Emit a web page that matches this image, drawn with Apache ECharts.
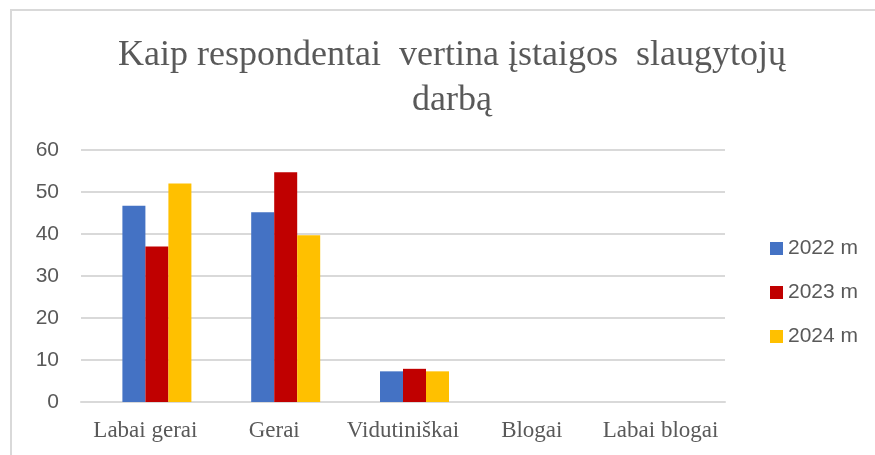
<!DOCTYPE html>
<html>
<head>
<meta charset="utf-8">
<title>Kaip respondentai vertina įstaigos slaugytojų darbą</title>
<script src="https://cdn.jsdelivr.net/npm/echarts@6/dist/echarts.min.js"></script>
<style>
  html, body { margin: 0; padding: 0; background: #fff; }
  #chart { width: 875px; height: 455px; }
</style>
</head>
<body>
<div id="chart"></div>
<script>
var categories = ['Labai gerai', 'Gerai', 'Vidutiniškai', 'Blogai', 'Labai blogai'];
var years = ['2022 m', '2023 m', '2024 m'];
var values2022 = [46.7, 45.2, 7.3, 0, 0];
var values2023 = [37, 54.7, 7.9, 0, 0];
var values2024 = [52, 39.7, 7.3, 0, 0];
// tuscia serija - Excel'yje pirmoji vieta grupeje lieka tuscia
var emptySlot = [null, null, null, null, null];
var yTicks = [0, 10, 20, 30, 40, 50, 60];

var colors = ['#4472C4', '#C00000', '#FFC000'];
var sans = '"Liberation Sans", Arial, sans-serif';
var serif = '"Liberation Serif", "Times New Roman", serif';

var myChart = echarts.init(document.getElementById('chart'));

function bar(name, data, color) {
  return {
    name: name,
    type: 'bar',
    data: data,
    barWidth: 23,
    barGap: '0%',
    itemStyle: { color: color },
    emphasis: { disabled: true }
  };
}

var option = {
  animation: false,
  backgroundColor: '#fff',
  title: {
    text: 'Kaip respondentai  vertina įstaigos  slaugytojų\ndarbą',
    left: 447,
    top: 28,
    textAlign: 'center',
    textStyle: {
      fontFamily: serif,
      fontWeight: 'normal',
      fontSize: 36,
      lineHeight: 45,
      color: '#595959'
    }
  },
  // remelio linijos virsuje ir kaireje
  graphic: [{
    type: 'polyline',
    shape: { points: [[11, 470], [11, 10], [890, 10]] },
    style: { stroke: '#D9D9D9', lineWidth: 2, fill: null },
    silent: true
  }],
  legend: {
    orient: 'vertical',
    left: 765,
    top: 233,
    data: years,
    itemWidth: 13,
    itemHeight: 13,
    itemGap: 23,
    icon: 'rect',
    textStyle: {
      fontFamily: sans,
      fontSize: 21,
      lineHeight: 21,
      color: '#595959'
    }
  },
  grid: {
    left: 81,
    right: 150,
    top: 150,
    bottom: 53,
    containLabel: false
  },
  xAxis: {
    type: 'category',
    data: categories,
    axisTick: { show: false },
    axisLine: { lineStyle: { color: '#D9D9D9', width: 2 } },
    axisLabel: {
      margin: 17,
      interval: 0,
      fontFamily: serif,
      fontSize: 23,
      color: '#595959'
    }
  },
  yAxis: {
    type: 'value',
    min: yTicks[0],
    max: yTicks[yTicks.length - 1],
    interval: 10,
    axisLine: { show: false },
    axisTick: { show: false },
    splitLine: { lineStyle: { color: '#D9D9D9', width: 2 } },
    axisLabel: {
      margin: 22,
      fontFamily: sans,
      fontSize: 21,
      color: '#595959'
    }
  },
  series: [
    bar('', emptySlot, 'transparent'),
    bar(years[0], values2022, colors[0]),
    bar(years[1], values2023, colors[1]),
    bar(years[2], values2024, colors[2])
  ]
};
myChart.setOption(option);
</script>
</body>
</html>
